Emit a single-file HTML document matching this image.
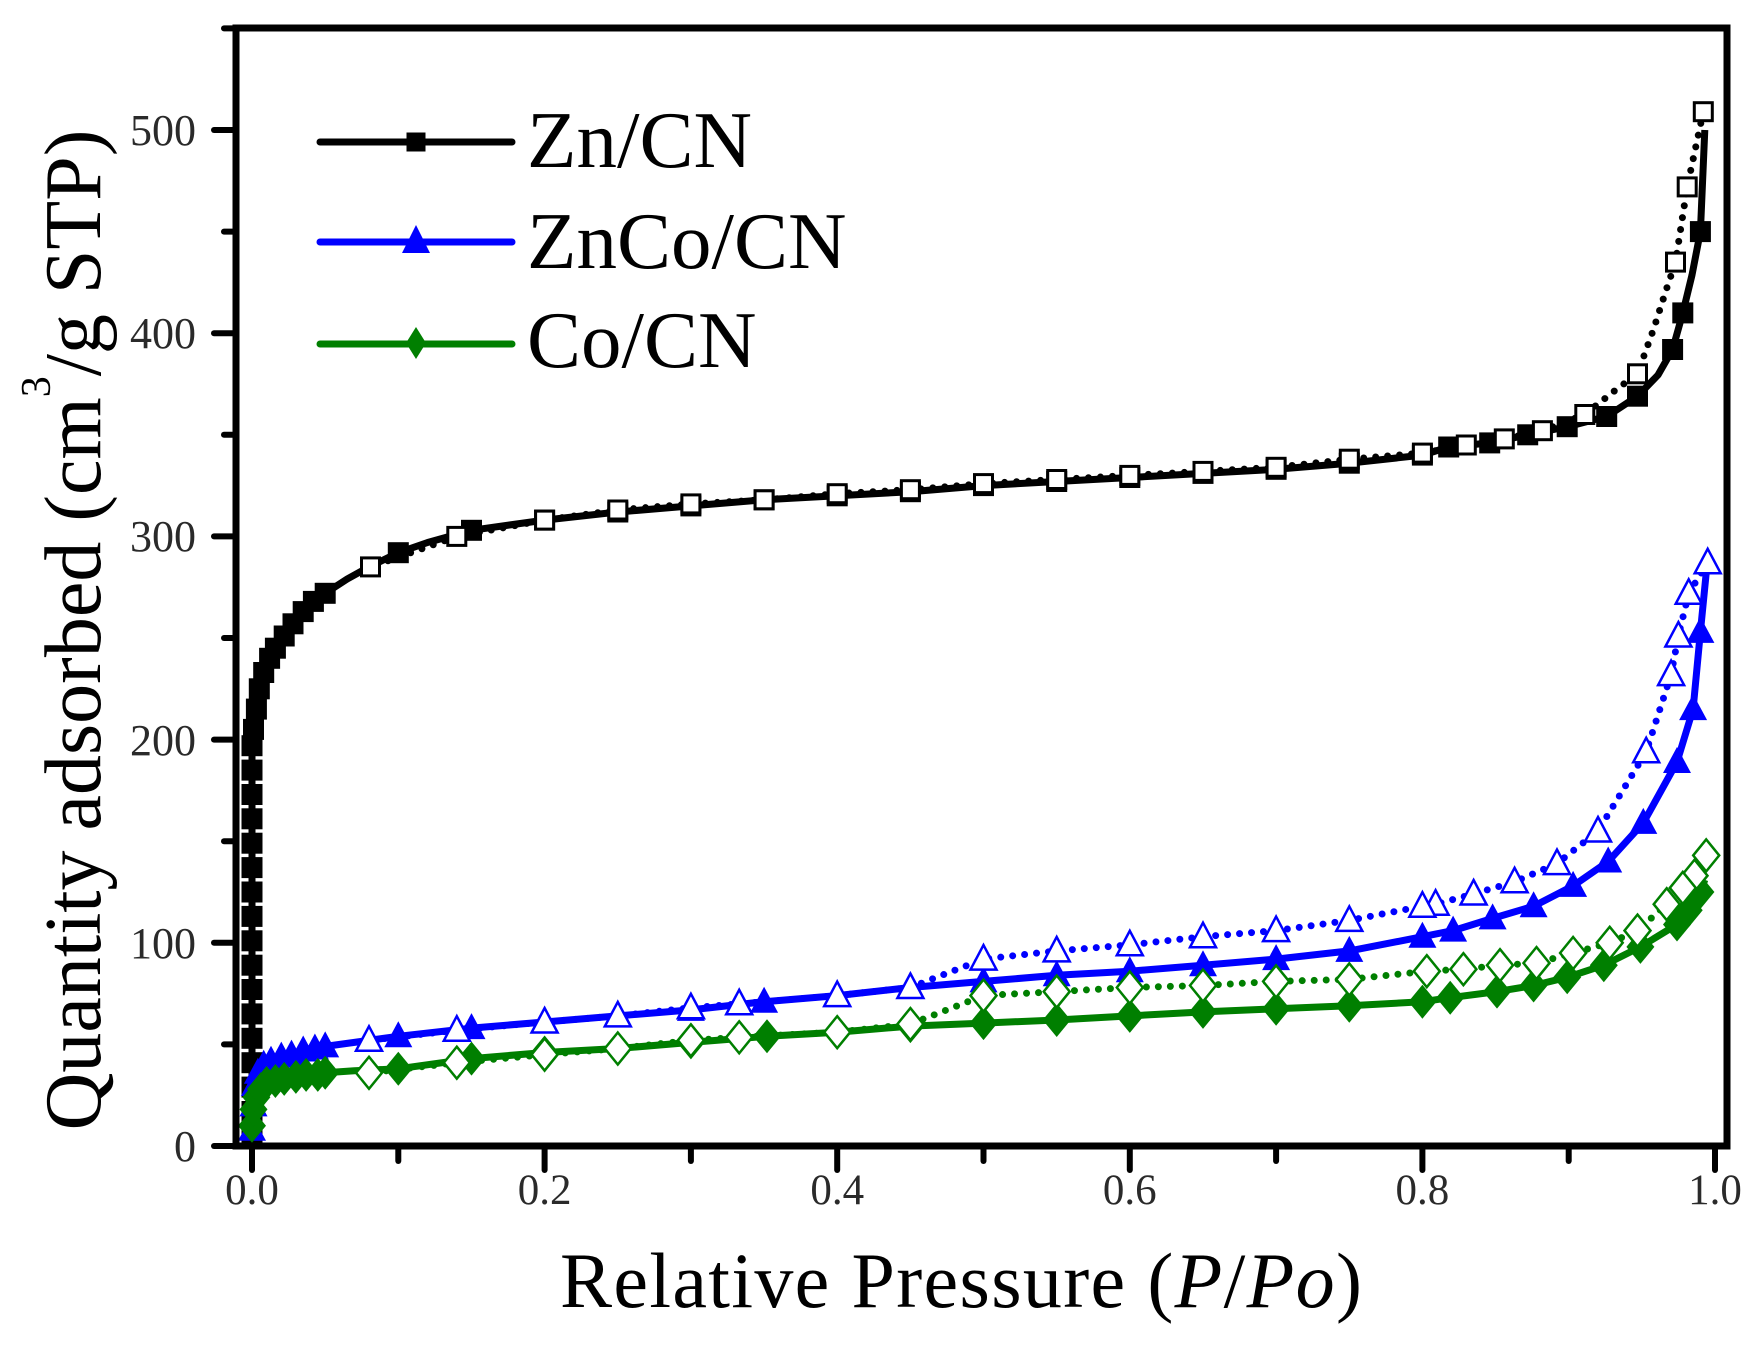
<!DOCTYPE html>
<html>
<head>
<meta charset="utf-8">
<style>
html,body{margin:0;padding:0;background:#fff;}
svg{display:block;}
text{font-family:"Liberation Serif","Times New Roman",serif;}
</style>
</head>
<body>
<svg width="1763" height="1349" viewBox="0 0 1763 1349" xmlns="http://www.w3.org/2000/svg">
<defs>
  <rect id="sF" x="-10.5" y="-10.5" width="21" height="21" fill="#000"/>
  <rect id="sO" x="-9" y="-9" width="18" height="18" fill="#fff" stroke="#000" stroke-width="3"/>
  <polygon id="tF" points="0,-15 14,11 -14,11" fill="#0000ff"/>
  <polygon id="tO" points="0,-14 13,10.5 -13,10.5" fill="#fff" stroke="#0000ff" stroke-width="2.5"/>
  <polygon id="dF" points="0,-17 14,0 0,17 -14,0" fill="#007f00"/>
  <polygon id="dO" points="0,-16 13,0 0,16 -13,0" fill="#fff" stroke="#007f00" stroke-width="2.5"/>
</defs>

<!-- ================= Zn/CN (black) ================= -->
<polyline fill="none" stroke="#000" stroke-width="7" stroke-linejoin="round"
 points="252,1146 252,745.7 253.5,729.4 256.4,709.1 259.3,688.8 263.7,672.5 269.6,658.3 275.4,648.2 284.2,636.0 293.0,623.8 303.2,611.6 313.4,601.4 325.2,593.3 347.1,579.1 369.0,566.9 398.3,552.7 427.6,542.5 471.5,530.3 544.6,520.1 617.8,512.0 690.9,505.9 764.1,499.8 837.2,495.8 910.4,491.7 983.5,485.6 1056.7,481.5 1129.8,477.5 1203.0,473.4 1276.1,469.3 1349.3,463.2 1422.4,455.1 1448.7,447.0 1489.7,442.9 1527.7,434.8 1567.2,426.7 1606.7,416.5 1637.5,396.2 1658,375 1672.6,349.5 1682.8,312.9 1692,275 1700.4,231.6 1704.8,130"/>
<g>
<use href="#sF" x="252" y="1135.8"/><use href="#sF" x="252" y="1111.5"/><use href="#sF" x="252" y="1087.1"/><use href="#sF" x="252" y="1062.7"/><use href="#sF" x="252" y="1038.3"/><use href="#sF" x="252" y="1013.9"/><use href="#sF" x="252" y="989.5"/><use href="#sF" x="252" y="965.2"/><use href="#sF" x="252" y="940.8"/><use href="#sF" x="252" y="916.4"/><use href="#sF" x="252" y="892.0"/><use href="#sF" x="252" y="867.6"/><use href="#sF" x="252" y="843.2"/><use href="#sF" x="252" y="818.8"/><use href="#sF" x="252" y="794.5"/><use href="#sF" x="252" y="770.1"/><use href="#sF" x="252" y="745.7"/>
<use href="#sF" x="253.5" y="729.4"/><use href="#sF" x="256.4" y="709.1"/><use href="#sF" x="259.3" y="688.8"/><use href="#sF" x="263.7" y="672.5"/><use href="#sF" x="269.6" y="658.3"/><use href="#sF" x="275.4" y="648.2"/><use href="#sF" x="284.2" y="636.0"/><use href="#sF" x="293.0" y="623.8"/><use href="#sF" x="303.2" y="611.6"/><use href="#sF" x="313.4" y="601.4"/><use href="#sF" x="325.2" y="593.3"/><use href="#sF" x="398.3" y="552.7"/><use href="#sF" x="471.5" y="530.3"/>
<use href="#sF" x="544.6" y="520.1"/><use href="#sF" x="617.8" y="512.0"/><use href="#sF" x="690.9" y="505.9"/><use href="#sF" x="764.1" y="499.8"/><use href="#sF" x="837.2" y="495.8"/><use href="#sF" x="910.4" y="491.7"/><use href="#sF" x="983.5" y="485.6"/><use href="#sF" x="1056.7" y="481.5"/><use href="#sF" x="1129.8" y="477.5"/><use href="#sF" x="1203.0" y="473.4"/><use href="#sF" x="1276.1" y="469.3"/><use href="#sF" x="1349.3" y="463.2"/><use href="#sF" x="1422.4" y="455.1"/>
<use href="#sF" x="1448.7" y="447.0"/><use href="#sF" x="1489.7" y="442.9"/><use href="#sF" x="1527.7" y="434.8"/><use href="#sF" x="1567.2" y="426.7"/><use href="#sF" x="1606.7" y="416.5"/><use href="#sF" x="1637.5" y="396.2"/><use href="#sF" x="1672.6" y="349.5"/><use href="#sF" x="1682.8" y="312.9"/><use href="#sF" x="1700.4" y="231.6"/>
</g>
<polyline fill="none" stroke="#000" stroke-width="7" stroke-linecap="round" stroke-linejoin="round" stroke-dasharray="0 12"
 points="1703.3,111.7 1687.2,186.9 1675.5,262.1 1665.3,292.6 1653.6,329.1 1637.5,373.8 1615.5,390.1 1584.8,414.5 1542.4,430.7 1504.3,438.9 1466.3,445.0 1422.4,453.1 1349.3,459.2 1276.1,467.3 1203.0,471.4 1129.8,475.4 1056.7,479.5 983.5,483.6 910.4,489.7 837.2,493.7 764.1,499.8 690.9,503.9 617.8,510.0 544.6,520.1 456.8,536.4 370.5,566.9"/>
<g>
<use href="#sO" x="1703.3" y="111.7"/><use href="#sO" x="1687.2" y="186.9"/><use href="#sO" x="1675.5" y="262.1"/><use href="#sO" x="1637.5" y="373.8"/><use href="#sO" x="1584.8" y="414.5"/><use href="#sO" x="1542.4" y="430.7"/><use href="#sO" x="1504.3" y="438.9"/><use href="#sO" x="1466.3" y="445.0"/><use href="#sO" x="1422.4" y="453.1"/><use href="#sO" x="1349.3" y="459.2"/><use href="#sO" x="1276.1" y="467.3"/><use href="#sO" x="1203.0" y="471.4"/><use href="#sO" x="1129.8" y="475.4"/><use href="#sO" x="1056.7" y="479.5"/><use href="#sO" x="983.5" y="483.6"/><use href="#sO" x="910.4" y="489.7"/><use href="#sO" x="837.2" y="493.7"/><use href="#sO" x="764.1" y="499.8"/><use href="#sO" x="690.9" y="503.9"/><use href="#sO" x="617.8" y="510.0"/><use href="#sO" x="544.6" y="520.1"/><use href="#sO" x="456.8" y="536.4"/><use href="#sO" x="370.5" y="566.9"/>
</g>

<!-- ================= ZnCo/CN (blue) ================= -->
<polyline fill="none" stroke="#0000ff" stroke-width="7" stroke-linejoin="round"
 points="252,1129.7 253.5,1105.4 254.9,1085.0 257.9,1072.8 263.7,1064.7 271.0,1060.7 281.3,1056.6 291.5,1054.6 303.2,1050.5 314.9,1048.5 325.2,1046.4 354.4,1042.4 398.3,1036.3 471.5,1028.1 544.6,1022.0 617.8,1015.9 690.9,1009.9 764.1,1001.7 837.2,995.6 910.4,987.5 983.5,981.4 1056.7,975.3 1129.8,971.2 1203.0,965.2 1276.1,959.1 1349.3,950.9 1422.4,936.7 1453.1,930.6 1492.6,918.4 1533.6,906.2 1573.1,885.9 1608.2,861.5 1643.3,822.9 1677.0,762.0 1693.1,709.1 1700.4,631.9 1706.2,573.0"/>
<g>
<use href="#tF" x="252" y="1129.7"/><use href="#tF" x="253.5" y="1105.4"/><use href="#tF" x="254.9" y="1085.0"/><use href="#tF" x="257.9" y="1072.8"/><use href="#tF" x="263.7" y="1064.7"/><use href="#tF" x="271.0" y="1060.7"/><use href="#tF" x="281.3" y="1056.6"/><use href="#tF" x="291.5" y="1054.6"/><use href="#tF" x="303.2" y="1050.5"/><use href="#tF" x="314.9" y="1048.5"/><use href="#tF" x="325.2" y="1046.4"/><use href="#tF" x="398.3" y="1036.3"/><use href="#tF" x="471.5" y="1028.1"/><use href="#tF" x="544.6" y="1022.0"/><use href="#tF" x="617.8" y="1015.9"/><use href="#tF" x="690.9" y="1009.9"/><use href="#tF" x="764.1" y="1001.7"/><use href="#tF" x="837.2" y="995.6"/><use href="#tF" x="910.4" y="987.5"/><use href="#tF" x="983.5" y="981.4"/><use href="#tF" x="1056.7" y="975.3"/><use href="#tF" x="1129.8" y="971.2"/><use href="#tF" x="1203.0" y="965.2"/><use href="#tF" x="1276.1" y="959.1"/><use href="#tF" x="1349.3" y="950.9"/><use href="#tF" x="1422.4" y="936.7"/><use href="#tF" x="1453.1" y="930.6"/><use href="#tF" x="1492.6" y="918.4"/><use href="#tF" x="1533.6" y="906.2"/><use href="#tF" x="1573.1" y="885.9"/><use href="#tF" x="1608.2" y="861.5"/><use href="#tF" x="1643.3" y="822.9"/><use href="#tF" x="1677.0" y="762.0"/><use href="#tF" x="1693.1" y="709.1"/><use href="#tF" x="1700.4" y="631.9"/>
</g>
<polyline fill="none" stroke="#0000ff" stroke-width="7" stroke-linecap="round" stroke-linejoin="round" stroke-dasharray="0 12"
 points="1707.7,562.8 1688.7,593.3 1678.4,636.0 1671.1,674.6 1646.2,751.8 1598.0,831.0 1557.0,863.6 1514.6,881.8 1473.6,894.0 1435.6,904.2 1422.4,906.2 1349.3,920.4 1276.1,930.6 1203.0,936.7 1129.8,944.8 1056.7,950.9 983.5,959.1 910.4,987.5 837.2,995.6 739.2,1003.8 690.9,1007.8 617.8,1015.9 544.6,1022.0 456.8,1030.2 369.0,1040.3"/>
<g>
<use href="#tO" x="1707.7" y="562.8"/><use href="#tO" x="1688.7" y="593.3"/><use href="#tO" x="1678.4" y="636.0"/><use href="#tO" x="1671.1" y="674.6"/><use href="#tO" x="1646.2" y="751.8"/><use href="#tO" x="1598.0" y="831.0"/><use href="#tO" x="1557.0" y="863.6"/><use href="#tO" x="1514.6" y="881.8"/><use href="#tO" x="1473.6" y="894.0"/><use href="#tO" x="1435.6" y="904.2"/><use href="#tO" x="1422.4" y="906.2"/><use href="#tO" x="1349.3" y="920.4"/><use href="#tO" x="1276.1" y="930.6"/><use href="#tO" x="1203.0" y="936.7"/><use href="#tO" x="1129.8" y="944.8"/><use href="#tO" x="1056.7" y="950.9"/><use href="#tO" x="983.5" y="959.1"/><use href="#tO" x="910.4" y="987.5"/><use href="#tO" x="837.2" y="995.6"/><use href="#tO" x="739.2" y="1003.8"/><use href="#tO" x="690.9" y="1007.8"/><use href="#tO" x="617.8" y="1015.9"/><use href="#tO" x="544.6" y="1022.0"/><use href="#tO" x="456.8" y="1030.2"/><use href="#tO" x="369.0" y="1040.3"/>
</g>

<!-- ================= Co/CN (green) ================= -->
<polyline fill="none" stroke="#007f00" stroke-width="7" stroke-linejoin="round"
 points="252,1125.7 253.5,1109.4 256.4,1097.2 260.8,1089.1 266.6,1083.0 275.4,1081.0 284.2,1078.9 295.9,1076.9 306.1,1074.9 317.8,1074.9 325.2,1072.8 354.4,1070.8 398.3,1068.8 471.5,1058.6 544.6,1052.5 617.8,1048.5 690.9,1042.4 767.0,1036.3 837.2,1032.2 910.4,1026.1 983.5,1023.1 1056.7,1020.0 1129.8,1015.9 1203.0,1011.9 1276.1,1008.8 1349.3,1005.8 1422.4,1001.7 1450.2,997.7 1497.0,991.6 1533.6,985.5 1567.2,977.3 1603.8,965.2 1640.4,946.9 1677.0,924.5 1688.7,910.3 1700.4,892.0 1704.8,879.8"/>
<g>
<use href="#dF" x="252" y="1125.7"/><use href="#dF" x="253.5" y="1109.4"/><use href="#dF" x="256.4" y="1097.2"/><use href="#dF" x="260.8" y="1089.1"/><use href="#dF" x="266.6" y="1083.0"/><use href="#dF" x="275.4" y="1081.0"/><use href="#dF" x="284.2" y="1078.9"/><use href="#dF" x="295.9" y="1076.9"/><use href="#dF" x="306.1" y="1074.9"/><use href="#dF" x="317.8" y="1074.9"/><use href="#dF" x="325.2" y="1072.8"/><use href="#dF" x="398.3" y="1068.8"/><use href="#dF" x="471.5" y="1058.6"/><use href="#dF" x="544.6" y="1052.5"/><use href="#dF" x="617.8" y="1048.5"/><use href="#dF" x="690.9" y="1042.4"/><use href="#dF" x="767.0" y="1036.3"/><use href="#dF" x="837.2" y="1032.2"/><use href="#dF" x="910.4" y="1026.1"/><use href="#dF" x="983.5" y="1023.1"/><use href="#dF" x="1056.7" y="1020.0"/><use href="#dF" x="1129.8" y="1015.9"/><use href="#dF" x="1203.0" y="1011.9"/><use href="#dF" x="1276.1" y="1008.8"/><use href="#dF" x="1349.3" y="1005.8"/><use href="#dF" x="1422.4" y="1001.7"/><use href="#dF" x="1450.2" y="997.7"/><use href="#dF" x="1497.0" y="991.6"/><use href="#dF" x="1533.6" y="985.5"/><use href="#dF" x="1567.2" y="977.3"/><use href="#dF" x="1603.8" y="965.2"/><use href="#dF" x="1640.4" y="946.9"/><use href="#dF" x="1677.0" y="924.5"/><use href="#dF" x="1688.7" y="910.3"/><use href="#dF" x="1700.4" y="892.0"/>
</g>
<polyline fill="none" stroke="#007f00" stroke-width="7" stroke-linecap="round" stroke-linejoin="round" stroke-dasharray="0 12"
 points="1706.2,855.4 1694.5,875.7 1682.8,887.9 1666.7,904.2 1637.5,930.6 1609.7,942.8 1573.1,953.0 1536.5,963.1 1500.0,965.2 1463.4,969.2 1426.8,971.2 1349.3,979.4 1276.1,981.4 1203.0,985.5 1129.8,987.5 1056.7,991.6 983.5,995.6 910.4,1024.1 837.2,1032.2 739.2,1037.3 690.9,1040.3 617.8,1048.5 544.6,1054.6 456.8,1062.7 369.0,1072.8"/>
<g>
<use href="#dO" x="1706.2" y="855.4"/><use href="#dO" x="1694.5" y="875.7"/><use href="#dO" x="1682.8" y="887.9"/><use href="#dO" x="1666.7" y="904.2"/><use href="#dO" x="1637.5" y="930.6"/><use href="#dO" x="1609.7" y="942.8"/><use href="#dO" x="1573.1" y="953.0"/><use href="#dO" x="1536.5" y="963.1"/><use href="#dO" x="1500.0" y="965.2"/><use href="#dO" x="1463.4" y="969.2"/><use href="#dO" x="1426.8" y="971.2"/><use href="#dO" x="1349.3" y="979.4"/><use href="#dO" x="1276.1" y="981.4"/><use href="#dO" x="1203.0" y="985.5"/><use href="#dO" x="1129.8" y="987.5"/><use href="#dO" x="1056.7" y="991.6"/><use href="#dO" x="983.5" y="995.6"/><use href="#dO" x="910.4" y="1024.1"/><use href="#dO" x="837.2" y="1032.2"/><use href="#dO" x="739.2" y="1037.3"/><use href="#dO" x="690.9" y="1040.3"/><use href="#dO" x="617.8" y="1048.5"/><use href="#dO" x="544.6" y="1054.6"/><use href="#dO" x="456.8" y="1062.7"/><use href="#dO" x="369.0" y="1072.8"/>
</g>

<!-- ================= Axes frame ================= -->
<rect x="236" y="28" width="1491" height="1118" fill="none" stroke="#000" stroke-width="7"/>

<!-- X ticks -->
<g stroke="#000" stroke-width="6" stroke-linecap="round">
  <line x1="252" y1="1146" x2="252" y2="1170"/>
  <line x1="544.6" y1="1146" x2="544.6" y2="1170"/>
  <line x1="837.2" y1="1146" x2="837.2" y2="1170"/>
  <line x1="1129.8" y1="1146" x2="1129.8" y2="1170"/>
  <line x1="1422.4" y1="1146" x2="1422.4" y2="1170"/>
  <line x1="1715" y1="1146" x2="1715" y2="1170"/>
  <line x1="398.3" y1="1146" x2="398.3" y2="1161"/>
  <line x1="690.9" y1="1146" x2="690.9" y2="1161"/>
  <line x1="983.5" y1="1146" x2="983.5" y2="1161"/>
  <line x1="1276.1" y1="1146" x2="1276.1" y2="1161"/>
  <line x1="1568.7" y1="1146" x2="1568.7" y2="1161"/>
</g>
<!-- Y ticks -->
<g stroke="#000" stroke-width="6" stroke-linecap="round">
  <line x1="236" y1="1146" x2="214" y2="1146"/>
  <line x1="236" y1="942.8" x2="214" y2="942.8"/>
  <line x1="236" y1="739.6" x2="214" y2="739.6"/>
  <line x1="236" y1="536.4" x2="214" y2="536.4"/>
  <line x1="236" y1="333.2" x2="214" y2="333.2"/>
  <line x1="236" y1="130" x2="214" y2="130"/>
  <line x1="236" y1="1044.4" x2="224" y2="1044.4"/>
  <line x1="236" y1="841.2" x2="224" y2="841.2"/>
  <line x1="236" y1="638" x2="224" y2="638"/>
  <line x1="236" y1="434.8" x2="224" y2="434.8"/>
  <line x1="236" y1="231.6" x2="224" y2="231.6"/>
  <line x1="236" y1="28.4" x2="224" y2="28.4"/>
</g>

<!-- Tick labels -->
<g font-size="43" fill="#2a2a2a" text-anchor="middle">
  <text x="252" y="1204">0.0</text>
  <text x="544.6" y="1204">0.2</text>
  <text x="837.2" y="1204">0.4</text>
  <text x="1129.8" y="1204">0.6</text>
  <text x="1422.4" y="1204">0.8</text>
  <text x="1715" y="1204">1.0</text>
</g>
<g font-size="44" fill="#2a2a2a" text-anchor="end">
  <text x="196" y="1161">0</text>
  <text x="196" y="958">100</text>
  <text x="196" y="755">200</text>
  <text x="196" y="551">300</text>
  <text x="196" y="348">400</text>
  <text x="196" y="145">500</text>
</g>

<!-- Axis titles -->
<text x="961" y="1307" font-size="78" text-anchor="middle" fill="#000" textLength="802" lengthAdjust="spacing">Relative Pressure (<tspan font-style="italic">P</tspan>/<tspan font-style="italic">Po</tspan>)</text>
<text transform="translate(100,630) rotate(-90)" font-size="80" text-anchor="middle" fill="#000">Quantity adsorbed (cm<tspan font-size="42" dy="-50">3</tspan><tspan dy="50">/g STP)</tspan></text>

<!-- Legend -->
<g stroke-width="7" stroke-linecap="round">
  <line x1="320" y1="142" x2="512" y2="142" stroke="#000"/>
  <line x1="320" y1="242" x2="512" y2="242" stroke="#0000ff"/>
  <line x1="320" y1="344" x2="512" y2="344" stroke="#007f00"/>
</g>
<rect x="406.5" y="132.5" width="19" height="19" fill="#000"/>
<polygon points="416,225 430,253 402,253" fill="#0000ff"/>
<polygon points="416,327 426,343 416,359 406,343" fill="#007f00"/>
<g font-size="81" fill="#000">
  <text x="527" y="167">Zn/CN</text>
  <text x="527" y="268">ZnCo/CN</text>
  <text x="527" y="367">Co/CN</text>
</g>
</svg>
</body>
</html>
